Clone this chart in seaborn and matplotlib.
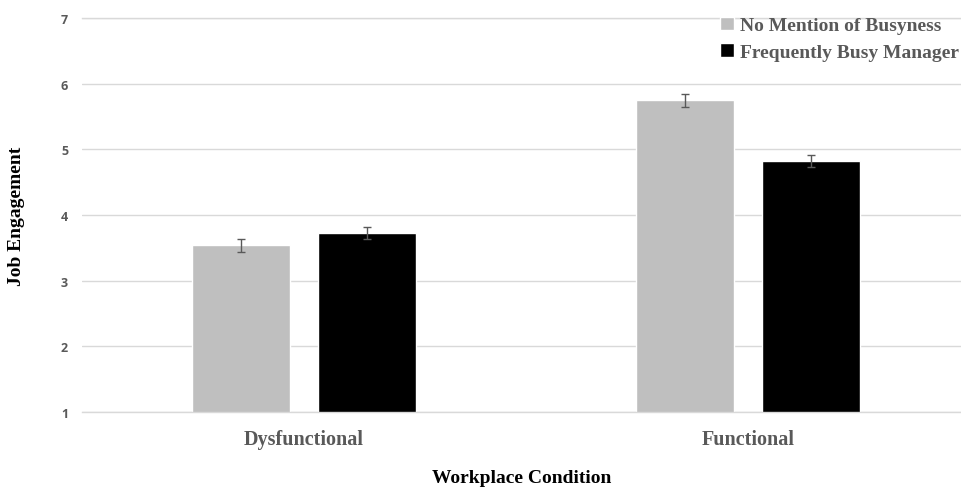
import pandas as pd
import matplotlib
matplotlib.use('Agg')
import matplotlib.pyplot as plt
import seaborn as sns


# =========================
# Dados
# =========================

conditions = ['Dysfunctional', 'Functional']
groups = ['No Mention of Busyness', 'Frequently Busy Manager']

no_mention = [3.54, 5.75]
busy_manager = [3.72, 4.82]

no_mention_err = [0.10, 0.10]
busy_manager_err = [0.09, 0.09]

df = pd.DataFrame({
    'condition': conditions * 2,
    'group': [groups[0]] * 2 + [groups[1]] * 2,
    'engagement': no_mention + busy_manager,
    'err': no_mention_err + busy_manager_err
})


# =========================
# Grafico
# =========================

sns.set_style('white')

fig = plt.figure(figsize=(9.62, 4.89), dpi=100)
ax = fig.add_axes([82/962, 1 - 413/489, 1 - 82/962, (413 - 19)/489])

sns.barplot(
    data=df,
    x='condition',
    y='engagement',
    hue='group',
    palette=['#bfbfbf', '#000000'],
    width=0.5676,
    gap=0.215,
    errorbar=None,
    ax=ax
)

# barras de erro a partir dos patches
bars = [p for p in ax.patches if p.get_height() > 0]
for p in bars:
    x = p.get_x() + p.get_width() / 2
    h = p.get_height()
    row = df[(df['engagement'] - h).abs() < 1e-9].iloc[0]
    ax.errorbar(x, h, yerr=row['err'], color='#595959',
                capsize=3, elinewidth=1, capthick=1)

ax.set_ylim(1, 7)
ax.set_xlim(-0.5, 1.482)
ax.set_yticks(range(1, 8))

ax.grid(axis='y', color='#d9d9d9', linewidth=1)
ax.set_axisbelow(True)
for side in ['left', 'right']:
    ax.spines[side].set_visible(False)
for side in ['top', 'bottom']:
    ax.spines[side].set_color('#d9d9d9')
    ax.spines[side].set_linewidth(1)

ax.tick_params(axis='both', length=0)
ax.tick_params(axis='y', pad=10)
ax.tick_params(axis='x', pad=12)

for lab in ax.get_yticklabels():
    lab.set_fontfamily('Open Sans')
    lab.set_fontweight('bold')
    lab.set_fontsize(9)
    lab.set_color('#595959')

for lab in ax.get_xticklabels():
    lab.set_fontfamily('Liberation Serif')
    lab.set_fontweight('bold')
    lab.set_fontsize(14.5)
    lab.set_color('#595959')

ax.set_xlabel('Workplace Condition', fontfamily='Liberation Serif',
              fontweight='bold', fontsize=14, color='black')
ax.set_ylabel('Job Engagement', fontfamily='Liberation Serif',
              fontweight='bold', fontsize=14, color='black')
ax.xaxis.set_label_coords(0.5, -0.165)
ax.yaxis.set_label_coords(-0.074, 0.5)
ax.xaxis.label.set_va('center')
ax.yaxis.label.set_va('center')

leg = ax.legend(
    loc='upper right',
    bbox_to_anchor=(1.016, 1.048),
    frameon=False,
    prop={'family': 'Liberation Serif', 'weight': 'bold', 'size': 14},
    handlelength=0.7,
    handleheight=0.7,
    handletextpad=0.3,
    labelspacing=0.45
)
for t in leg.get_texts():
    t.set_color('#595959')

plt.savefig('out.png', dpi=100)
